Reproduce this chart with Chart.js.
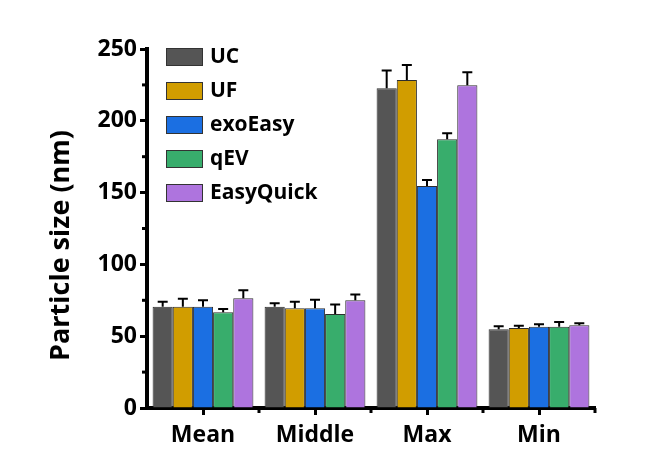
<!DOCTYPE html>
<html>
<head>
<meta charset="utf-8">
<script src="https://cdn.jsdelivr.net/npm/chart.js@4.4.1/dist/chart.umd.min.js"></script>
<style>
    html, body { margin: 0; padding: 0; background: #ffffff; }
    #wrap { width: 664px; height: 459px; }
</style>
</head>
<body>
<div id="wrap"><canvas id="SizeChart" width="664" height="459"></canvas></div>
<script>
// groups on the x axis
const categories = ['Mean', 'Middle', 'Max', 'Min'];

// particle size (nm)
const uc_size        = [70.5, 70.5, 222.6, 54.8];
const uf_size        = [70.5, 69.4, 228.4, 55.7];
const exoeasy_size   = [70.5, 69.4, 154.6, 56.6];
const qev_size       = [66.6, 65.5, 187.1, 56.6];
const easyquick_size = [76.4, 75.0, 224.7, 57.6];

// upper error (SD)
const uc_err        = [3.5, 2.5, 12.4, 2.2];
const uf_err        = [5.5, 4.6, 10.5, 1.6];
const exoeasy_err   = [4.5, 6.0, 4.2, 1.7];
const qev_err       = [2.4, 6.5, 4.2, 3.3];
const easyquick_err = [5.6, 4.0, 9.1, 1.4];

const y_ticks = [0, 50, 100, 150, 200, 250];
const y_minor = [25, 75, 125, 175, 225];
const y_title = 'Particle size (nm)';

const FONT = "'Open Sans', 'Liberation Sans', sans-serif";

// error bars, only the upper half like in the original
const errorBars = {
    id: 'errorBars',
    afterDatasetsDraw(chart) {
        const ctx = chart.ctx;
        const y = chart.scales.y;
        ctx.save();
        ctx.strokeStyle = '#000';
        ctx.lineWidth = 2;
        chart.data.datasets.forEach((ds, i) => {
            const meta = chart.getDatasetMeta(i);
            meta.data.forEach((bar, j) => {
                const top = y.getPixelForValue(ds.data[j] + ds.errors[j]);
                ctx.beginPath();
                ctx.moveTo(bar.x, bar.y);
                ctx.lineTo(bar.x, top);
                ctx.moveTo(bar.x - 5, top);
                ctx.lineTo(bar.x + 5, top);
                ctx.stroke();
            });
        });
        ctx.restore();
    }
};

// short ticks: y minor values and x category boundaries
const minorTicks = {
    id: 'minorTicks',
    afterDraw(chart) {
        const ctx = chart.ctx;
        const x = chart.scales.x, y = chart.scales.y;
        const area = chart.chartArea;
        ctx.save();
        ctx.strokeStyle = '#000';
        ctx.lineWidth = 3;
        y_minor.forEach(v => {
            const py = y.getPixelForValue(v);
            ctx.beginPath();
            ctx.moveTo(area.left, py);
            ctx.lineTo(area.left - 5, py);
            ctx.stroke();
        });
        for (let i = 0; i < categories.length; i++) {
            const px = (i < categories.length - 1)
                ? (x.getPixelForValue(i) + x.getPixelForValue(i + 1)) / 2
                : area.right;
            ctx.beginPath();
            ctx.moveTo(px, area.bottom);
            ctx.lineTo(px, area.bottom + 5);
            ctx.stroke();
        }
        ctx.restore();
    }
};

// y title sits a bit below the middle of the axis in the original
const yTitle = {
    id: 'yTitle',
    afterDraw(chart) {
        const ctx = chart.ctx;
        const area = chart.chartArea;
        ctx.save();
        ctx.translate(61, (area.top + area.bottom) / 2 + 17);
        ctx.rotate(-Math.PI / 2);
        ctx.font = "bold 27px " + FONT;
        ctx.fillStyle = '#000';
        ctx.textAlign = 'center';
        ctx.textBaseline = 'middle';
        ctx.fillText(y_title, 0, 0);
        ctx.restore();
    }
};

// legend inside the plot, top left, stacked
const insideLegend = {
    id: 'insideLegend',
    afterDraw(chart) {
        const ctx = chart.ctx;
        const area = chart.chartArea;
        const x0 = area.left + 19;
        let y0 = area.top - 1;
        ctx.save();
        ctx.font = "bold 21px " + FONT;
        ctx.textBaseline = 'middle';
        ctx.textAlign = 'left';
        chart.data.datasets.forEach(ds => {
            ctx.fillStyle = ds.backgroundColor;
            ctx.fillRect(x0, y0, 37, 18);
            ctx.strokeStyle = '#333';
            ctx.lineWidth = 1;
            ctx.strokeRect(x0 + 0.5, y0 + 0.5, 36, 17);
            ctx.fillStyle = '#000';
            ctx.fillText(ds.label, x0 + 44, y0 + 9);
            y0 += 34;
        });
        ctx.restore();
    }
};

function make_ds(label, data, errors, color) {
    return {
        label: label,
        data: data,
        errors: errors,
        backgroundColor: color,
        borderColor: '#2e2e2e',
        borderWidth: 1,
        categoryPercentage: 0.9,
        barPercentage: 1.0
    };
}

const ctx = document.getElementById('SizeChart').getContext('2d');

new Chart(ctx, {
    type: 'bar',
    data: {
        labels: categories,
        datasets: [
            make_ds('UC', uc_size, uc_err, '#555555'),
            make_ds('UF', uf_size, uf_err, '#d19d00'),
            make_ds('exoEasy', exoeasy_size, exoeasy_err, '#1b6fe2'),
            make_ds('qEV', qev_size, qev_err, '#38ad6c'),
            make_ds('EasyQuick', easyquick_size, easyquick_err, '#ae74de')
        ]
    },
    options: {
        responsive: false,
        animation: false,
        layout: {
            padding: { left: 0, right: 69, top: 49, bottom: 0 }
        },
        plugins: {
            legend: { display: false },
            tooltip: { enabled: false }
        },
        scales: {
            x: {
                afterFit: s => { s.height = 51; },
                ticks: {
                    color: '#000',
                    font: { family: FONT, size: 23, weight: 'bold' },
                    padding: 7
                },
                grid: {
                    offset: false,
                    drawOnChartArea: false,
                    drawTicks: true,
                    tickLength: 7,
                    tickWidth: 3,
                    tickColor: '#000'
                },
                border: { display: true, color: '#000', width: 4 }
            },
            y: {
                min: 0,
                max: 250,
                afterFit: s => { s.width = 147; },
                afterBuildTicks: s => { s.ticks = y_ticks.map(v => ({ value: v })); },
                ticks: {
                    color: '#000',
                    font: { family: FONT, size: 23, weight: 'bold' },
                    padding: 3
                },
                grid: {
                    drawOnChartArea: false,
                    drawTicks: true,
                    tickLength: 7,
                    tickWidth: 3,
                    tickColor: '#000'
                },
                border: { display: true, color: '#000', width: 4 }
            }
        }
    },
    plugins: [errorBars, minorTicks, yTitle, insideLegend]
});
</script>
</body>
</html>
